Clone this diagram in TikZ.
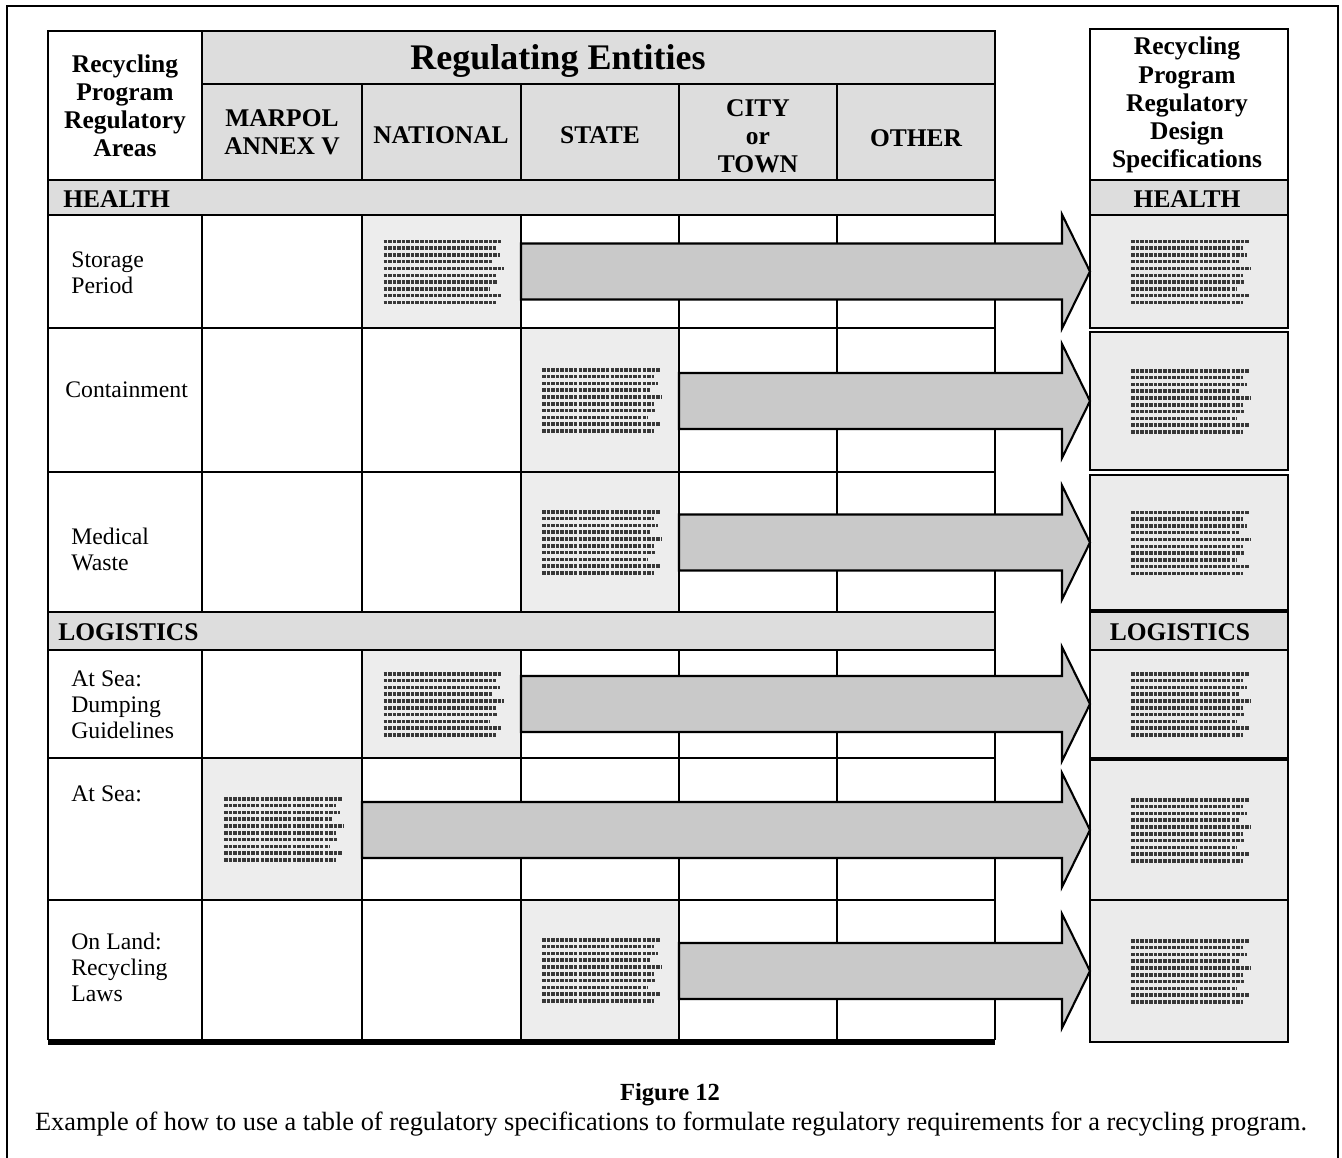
\documentclass[tikz,border=0pt]{standalone}
\usepackage{fontspec}
\setmainfont{Liberation Serif}
\usetikzlibrary{positioning,calc,fit}

\tikzset{
  grid line/.style={line width=1.2pt},
  band/.style={fill=gray!27},
  textcell/.style={fit={#1}, inner sep=0pt, outer sep=0pt, fill=gray!14},
  specbox/.style={fit={#1}, inner sep=0pt, outer sep=0pt, fill=gray!16, draw, line width=1.2pt},
  fakeline/.style={line width=2pt, black!78, dash pattern=on 2pt off 0.6pt},
  bigarrow/.style={draw, line width=1.2pt, fill=gray!42, line join=miter},
  head/.style={font=\bfseries\fontsize{14.5}{16}\selectfont, align=center, inner sep=0pt},
  rowlabel/.style={font=\fontsize{13.5}{14.8}\selectfont, align=left, anchor=west, inner sep=0pt},
}

\begin{document}
\begin{tikzpicture}[x=0.02cm, y=-0.02cm]
\useasboundingbox (0,0) rectangle (1342,1158);
\draw[line width=1.1pt] (7,1160) -- (7,6) -- (1338,6) -- (1338,1160);

% shaded bands and cells
\fill[band] (202,31) rectangle (995,180);
\fill[band] (48,180) rectangle (995,215);
\fill[band] (48,612) rectangle (995,650);
\node[textcell={(362,215) (521,328)}] (cell-storage) {};
\node[textcell={(521,328) (679,472)}] (cell-containment) {};
\node[textcell={(521,472) (679,612)}] (cell-medical) {};
\node[textcell={(362,650) (521,758)}] (cell-dumping) {};
\node[textcell={(202,758) (362,900)}] (cell-atsea) {};
\node[textcell={(521,900) (679,1040)}] (cell-onland) {};

% table grid
\draw[grid line] (48,31) rectangle (995,180);
\draw[grid line] (202,31) -- (202,180);
\draw[grid line] (202,84) -- (995,84);
\foreach \x in {362,521,679,837} \draw[grid line] (\x,84) -- (\x,180);
\draw[grid line] (48,180) rectangle (995,215);
\draw[grid line] (48,612) rectangle (995,650);
\foreach \y in {328,472,758,900,1040} \draw[grid line] (48,\y) -- (995,\y);
\foreach \x in {48,202,362,521,679,837,995} {
  \draw[grid line] (\x,215) -- (\x,612);
  \draw[grid line] (\x,650) -- (\x,1040);
}
\draw[line width=3pt] (48,1042) -- (995,1042);

% design specifications column
\draw[grid line] (1090,29) rectangle (1288,180);
\draw[grid line, band] (1090,180) rectangle (1288,215);
\draw[grid line, band] (1090,612) rectangle (1288,650);
\node[specbox={(1090,215) (1288,328)}] (spec-storage) {};
\node[specbox={(1090,332) (1288,470)}] (spec-containment) {};
\node[specbox={(1090,475) (1288,610)}] (spec-medical) {};
\node[specbox={(1090,650) (1288,758)}] (spec-dumping) {};
\node[specbox={(1090,760) (1288,900)}] (spec-atsea) {};
\node[specbox={(1090,900) (1288,1042)}] (spec-onland) {};

% illegible text blocks
\foreach \c in {cell-storage,cell-containment,cell-medical,cell-dumping,cell-atsea,cell-onland,
  spec-storage,spec-containment,spec-medical,spec-dumping,spec-atsea,spec-onland}
  \foreach \w [count=\i] in {118,112,116,108,120,112,114,106,118,112}
    \draw[fakeline] ([shift={(-58,\i*6.8-37)}]\c.center) -- ++(\w,0);

% headings
\node[head] (head-areas) at (125,106) {Recycling\\Program\\Regulatory\\Areas};
\node[head, font=\bfseries\fontsize{20.5}{22}\selectfont] (head-entities) at (558,61) {Regulating Entities};
\node[head] (head-marpol) at (282,132) {MARPOL\\ANNEX V};
\node[head] (head-national) at (441,135) {NATIONAL};
\node[head] (head-state) at (600,135) {STATE};
\node[head] (head-city) at (758,136) {CITY\\or\\TOWN};
\node[head] (head-other) at (916,138) {OTHER};
\node[head] (head-design) at (1187,105) {Recycling\\Program\\Regulatory\\Design\\Specifications};
\node[head, anchor=west] (band-health) at (63,199) {HEALTH};
\node[head, anchor=west] (band-logistics) at (58,632) {LOGISTICS};
\node[head] (spec-health) at (1187,199) {HEALTH};
\node[head] (spec-logistics) at (1180,632) {LOGISTICS};

% row labels
\node[rowlabel] (row-storage) at (71,273) {Storage\\Period};
\node[rowlabel] (row-containment) at (65,390) {Containment};
\node[rowlabel] (row-medical) at (71,549) {Medical\\Waste};
\node[rowlabel] (row-dumping) at (71,705) {At Sea:\\Dumping\\Guidelines};
\node[rowlabel] (row-atsea) at (71,794) {At Sea:};
\node[rowlabel] (row-onland) at (71,967) {On Land:\\Recycling\\Laws};

% block arrows
\foreach \r in {storage,containment,medical,dumping,atsea,onland}
  \draw[bigarrow] ($(cell-\r.east |- spec-\r.west)+(0,-28)$) -- ($(spec-\r.west)+(-28,-28)$)
    -- ($(spec-\r.west)+(-28,-57)$) -- (spec-\r.west) -- ($(spec-\r.west)+(-28,57)$)
    -- ($(spec-\r.west)+(-28,28)$) -- ($(cell-\r.east |- spec-\r.west)+(0,28)$) -- cycle;

% caption
\node[font=\bfseries\fontsize{14}{16}\selectfont] (fig-title) at (670,1095) {Figure 12};
\node[font=\fontsize{15}{16}\selectfont] (fig-caption) at (671,1124)
  {Example of how to use a table of regulatory specifications to formulate regulatory requirements for a recycling program.};
\end{tikzpicture}
\end{document}
